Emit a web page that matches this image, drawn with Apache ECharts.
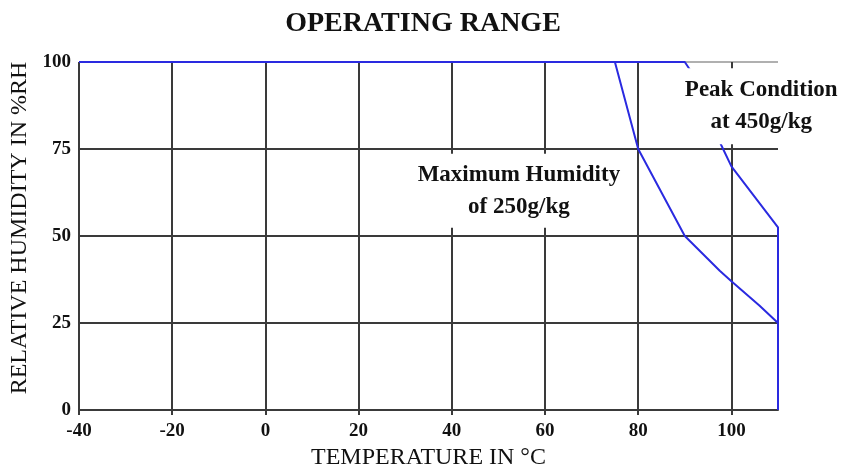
<!DOCTYPE html>
<html>
<head>
<meta charset="utf-8">
<script src="https://cdn.jsdelivr.net/npm/echarts@6/dist/echarts.min.js"></script>
<style>
  html, body { margin: 0; padding: 0; background: #fff; }
  #range { width: 846px; height: 468px; }
</style>
</head>
<body>
<div id="range"></div>
<script>
// Operating range curves (temperature in °C, humidity in %RH)
var maxHumidityTemp = [75, 80, 90, 97.5, 100, 106, 110, 110];
var maxHumidityRH = [100, 75, 50, 40, 37, 30, 25, 0];
var peakTemp = [-40, 90, 91, 97.5, 100, 110, 110];
var peakRH = [100, 100, 98, 77, 70, 52.5, 0];

var xTicks = [-40, -20, 0, 20, 40, 60, 80, 100];
var yTicks = [0, 25, 50, 75, 100];

var maxLabel = 'Maximum Humidity\nof 250g/kg';
var peakLabel = 'Peak Condition\nat 450g/kg';

function pairs(xs, ys) {
  return xs.map(function (x, i) { return [x, ys[i]]; });
}

var dark = '#3a3a3a';
var light = '#b0b0b0';
var blue = '#2a2ae0';
var serif = '"Liberation Serif", "DejaVu Serif", serif';

var chart = echarts.init(document.getElementById('range'));
chart.setOption({
  animation: false,
  title: {
    text: 'OPERATING RANGE',
    left: 'center',
    top: 5,
    textStyle: { fontFamily: serif, fontSize: 28, fontWeight: 'bold', color: '#111' }
  },
  grid: { left: 79, right: 68, top: 62, bottom: 58, outerBoundsMode: 'none' },
  xAxis: {
    type: 'value',
    min: -40,
    max: 110,
    interval: 20,
    name: 'TEMPERATURE IN °C',
    nameLocation: 'middle',
    nameGap: 34,
    nameTextStyle: { fontFamily: serif, fontSize: 24, color: '#111' },
    axisLine: { lineStyle: { color: dark, width: 2 } },
    axisTick: { show: true, length: 5, customValues: xTicks, lineStyle: { color: dark, width: 2 } },
    axisLabel: {
      fontFamily: serif, fontSize: 19, fontWeight: 'bold', color: '#111', margin: 12,
      formatter: function (v) { return xTicks.indexOf(v) >= 0 ? String(v) : ''; }
    },
    splitLine: {
      show: true,
      lineStyle: { color: [dark, dark, dark, dark, dark, dark, dark, dark, light], width: 2 }
    }
  },
  yAxis: {
    type: 'value',
    min: 0,
    max: 100,
    interval: 25,
    name: 'RELATIVE HUMIDITY IN %RH',
    nameLocation: 'middle',
    nameGap: 40,
    nameTextStyle: { fontFamily: serif, fontSize: 24, color: '#111', padding: [0, 0, 0, 16] },
    axisLine: { show: true, lineStyle: { color: dark, width: 2 } },
    axisTick: { show: true, length: 5, lineStyle: { color: dark, width: 2 } },
    axisLabel: {
      fontFamily: serif, fontSize: 19, fontWeight: 'bold', color: '#111', margin: 8,
      formatter: function (v) { return yTicks.indexOf(v) >= 0 ? String(v) : ''; }
    },
    splitLine: {
      show: true,
      lineStyle: { color: [dark, dark, dark, dark, light], width: 2 }
    }
  },
  series: [
    {
      name: 'max-humidity',
      type: 'line',
      data: pairs(maxHumidityTemp, maxHumidityRH),
      symbol: 'none',
      lineStyle: { color: blue, width: 2 }
    },
    {
      name: 'peak',
      type: 'line',
      data: pairs(peakTemp, peakRH),
      symbol: 'none',
      lineStyle: { color: blue, width: 2 },
      markPoint: {
        symbol: 'rect',
        symbolSize: 0,
        silent: true,
        label: {
          show: true,
          position: 'inside',
          fontFamily: serif,
          fontSize: 23,
          fontWeight: 'bold',
          lineHeight: 32,
          color: '#111',
          backgroundColor: '#fff',
          align: 'center'
        },
        data: [
          { coord: [54.4, 63], value: maxLabel, label: { formatter: maxLabel, padding: [5, 10, 5, 10] } },
          { coord: [106.4, 87.3], value: peakLabel, label: { formatter: peakLabel, padding: [6, 2, 6, 2] } }
        ]
      }
    }
  ]
});
</script>
</body>
</html>
